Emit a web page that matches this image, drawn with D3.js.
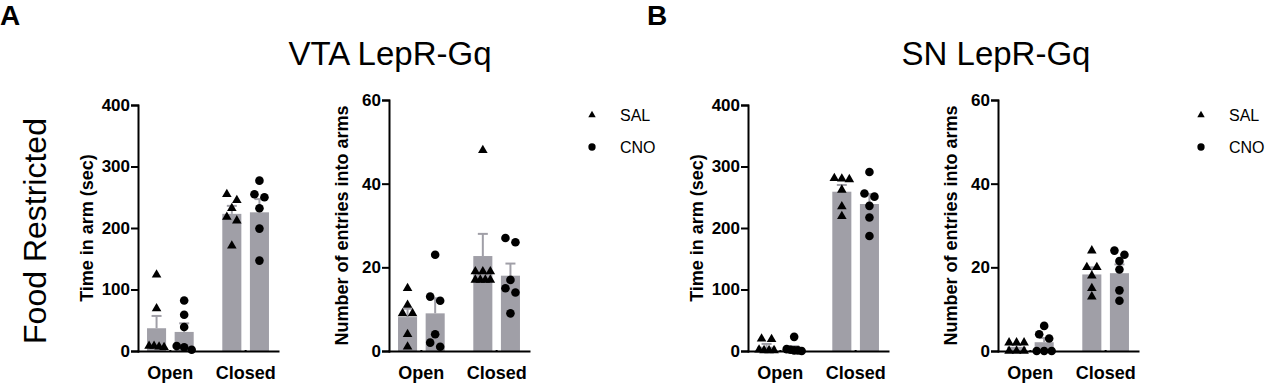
<!DOCTYPE html>
<html>
<head>
<meta charset="utf-8">
<script src="https://cdn.jsdelivr.net/npm/d3@7"></script>
<style>
  body { margin: 0; background: #fff; }
  text { font-family: "Liberation Sans", Arial, sans-serif; }
</style>
</head>
<body>
<div id="fig"></div>
<script>
// categories
var arms = ["Open", "Closed"];
var treatments = ["SAL", "CNO"];
var timeTicks = [0, 100, 200, 300, 400];
var entryTicks = [0, 20, 40, 60];

// VTA LepR-Gq, time in arm (sec)   [arm][treatment]
var vtaTimeMean = [[37, 31], [223, 225.5]];
var vtaTimeSem = [[20, 14], [13, 21.5]];
var vtaTimePoints = [
	[[124, 69, 8, 6, 7, 8], [82, 59, 39, 8, 6, 2]],
	[[255, 245, 232, 218, 212, 171], [277, 255, 250, 232, 199, 147]]
];

// VTA LepR-Gq, number of entries into arms
var vtaEntryMean = [[8.1, 9], [22.7, 18]];
var vtaEntrySem = [[2, 3.6], [5.3, 2.9]];
var vtaEntryPoints = [
	[[15, 11, 9, 9, 4, 1], [23, 13, 12, 4, 2, 1]],
	[[48, 19, 19, 19, 17, 17, 17, 17], [27, 26, 17, 15, 14, 9]]
];

// SN LepR-Gq, time in arm (sec)
var snTimeMean = [[7, 4.3], [259, 239]];
var snTimeSem = [[4.5, 3.5], [11, 16]];
var snTimePoints = [
	[[20, 19, 2, 1, 1, 1], [23, 3, 2, 1, 1, 0]],
	[[281, 280, 279, 262, 235, 219], [291, 256, 251, 236, 217, 187]]
];

// SN LepR-Gq, number of entries into arms
var snEntryMean = [[1, 2.1], [18.3, 18.6]];
var snEntrySem = [[0.5, 1], [1.7, 2.1]];
var snEntryPoints = [
	[[2, 2, 2, 0, 0, 0], [6, 4, 3, 0, 0, 0]],
	[[24, 20, 20, 18, 15, 13], [24, 23, 21.5, 19.5, 14.5, 12]]
];

var W = 1268, H = 384;
var baseY = 351;
var barColor = "#a09fa7";

var svg = d3.select("#fig")
	.append("svg")
	.attr("width", W)
	.attr("height", H);

var panels = [
	{ left: 138, top: 105, max: 400, ticks: timeTicks, label: "Time in arm (sec)", titleOff: 45,
		mean: vtaTimeMean, sem: vtaTimeSem, pts: vtaTimePoints },
	{ left: 389, top: 100, max: 60, ticks: entryTicks, label: "Number of entries into arms", titleOff: 41,
		mean: vtaEntryMean, sem: vtaEntrySem, pts: vtaEntryPoints },
	{ left: 748, top: 105, max: 400, ticks: timeTicks, label: "Time in arm (sec)", titleOff: 45,
		mean: snTimeMean, sem: snTimeSem, pts: snTimePoints },
	{ left: 998, top: 100, max: 60, ticks: entryTicks, label: "Number of entries into arms", titleOff: 41,
		mean: snEntryMean, sem: snEntrySem, pts: snEntryPoints }
];

var triangle = d3.symbol().type(d3.symbolTriangle).size(40);
var circle = d3.symbol().type(d3.symbolCircle).size(58);
var shapes = { SAL: triangle, CNO: circle };

// spread points that sit on top of each other (like a scatter dot plot)
function swarm(values, y) {
	var sorted = values.slice().sort(function (a, b) { return b - a; });
	var groups = [];
	sorted.forEach(function (v) {
		var py = y(v);
		var last = groups[groups.length - 1];
		if (last && Math.abs(py - last.start) < 8) last.items.push(v);
		else groups.push({ start: py, items: [v] });
	});
	var out = [];
	groups.forEach(function (g) {
		var k = g.items.length;
		var step = k > 1 ? Math.min(10, 15 / (k - 1)) : 0;
		g.items.forEach(function (v, i) {
			out.push({ v: v, dx: (i - (k - 1) / 2) * step });
		});
	});
	return out;
}

panels.forEach(function (p) {
	var g = svg.append("g").attr("transform", "translate(" + p.left + ",0)");

	var y = d3.scaleLinear().domain([0, p.max]).range([baseY, p.top]);
	var x = d3.scaleBand().domain(arms).range([0, 140]).paddingInner(0.38).paddingOuter(0.12);
	var xs = d3.scaleBand().domain(treatments).range([0, x.bandwidth()]).paddingInner(0.31);

	arms.forEach(function (arm, i) {
		treatments.forEach(function (t, j) {
			var m = p.mean[i][j], s = p.sem[i][j];
			var bx = x(arm) + xs(t), bw = xs.bandwidth(), cx = bx + bw / 2;

			g.append("line")
				.attr("x1", cx).attr("x2", cx)
				.attr("y1", y(m)).attr("y2", y(m + s))
				.attr("stroke", barColor).attr("stroke-width", 2);
			g.append("line")
				.attr("x1", cx - 5).attr("x2", cx + 5)
				.attr("y1", y(m + s)).attr("y2", y(m + s))
				.attr("stroke", barColor).attr("stroke-width", 2);

			g.append("rect")
				.attr("x", bx).attr("width", bw)
				.attr("y", y(m)).attr("height", y(0) - y(m))
				.attr("fill", barColor);

			g.selectAll(null)
				.data(swarm(p.pts[i][j], y))
				.enter()
				.append("path")
				.attr("d", shapes[t])
				.attr("transform", function (d) { return "translate(" + (cx + d.dx) + "," + y(d.v) + ")"; })
				.attr("fill", "#000");
		});
	});

	// axes
	var ya = g.append("g")
		.call(d3.axisLeft(y).tickValues(p.ticks).tickSize(6).tickPadding(2));
	var xa = g.append("g")
		.attr("transform", "translate(0," + baseY + ")")
		.call(d3.axisBottom(x).tickSize(0).tickPadding(15));

	[ya, xa].forEach(function (a) {
		a.selectAll("path, line").attr("stroke", "#000").attr("stroke-width", 2).attr("stroke-linecap", "square");
		a.selectAll("text").attr("fill", "#000").style("font-weight", "bold");
	});
	ya.selectAll("text").style("font-size", "17px");
	xa.selectAll("text").style("font-size", "18px");

	g.append("text")
		.attr("transform", "translate(" + (-p.titleOff) + "," + ((baseY + p.top) / 2) + ")rotate(-90)")
		.attr("text-anchor", "middle")
		.style("font-size", "18px")
		.style("font-weight", "bold")
		.text(p.label);
});

// legends
[{ x: 592 }, { x: 1201 }].forEach(function (l) {
	var lg = svg.append("g").attr("transform", "translate(" + l.x + ",0)");
	treatments.forEach(function (t, i) {
		var cy = 115 + i * 32;
		lg.append("path")
			.attr("d", t === "SAL" ? d3.symbol().type(d3.symbolTriangle).size(24)() : d3.symbol().type(d3.symbolCircle).size(42)())
			.attr("transform", "translate(0," + cy + ")")
			.attr("fill", "#000");
		lg.append("text")
			.attr("x", 28).attr("y", cy).attr("dy", "0.35em")
			.style("font-size", "16px")
			.text(t);
	});
});

// titles
svg.append("text").attr("x", 390).attr("y", 65).attr("text-anchor", "middle")
	.style("font-size", "33px").text("VTA LepR-Gq");
svg.append("text").attr("x", 996).attr("y", 65).attr("text-anchor", "middle")
	.style("font-size", "33px").text("SN LepR-Gq");

svg.append("text").attr("x", 0).attr("y", 25)
	.style("font-size", "28px").style("font-weight", "bold").text("A");
svg.append("text").attr("x", 647).attr("y", 25)
	.style("font-size", "28px").style("font-weight", "bold").text("B");

svg.append("text")
	.attr("transform", "translate(46,231)rotate(-90)")
	.attr("text-anchor", "middle")
	.style("font-size", "32px")
	.text("Food Restricted");
</script>
</body>
</html>
